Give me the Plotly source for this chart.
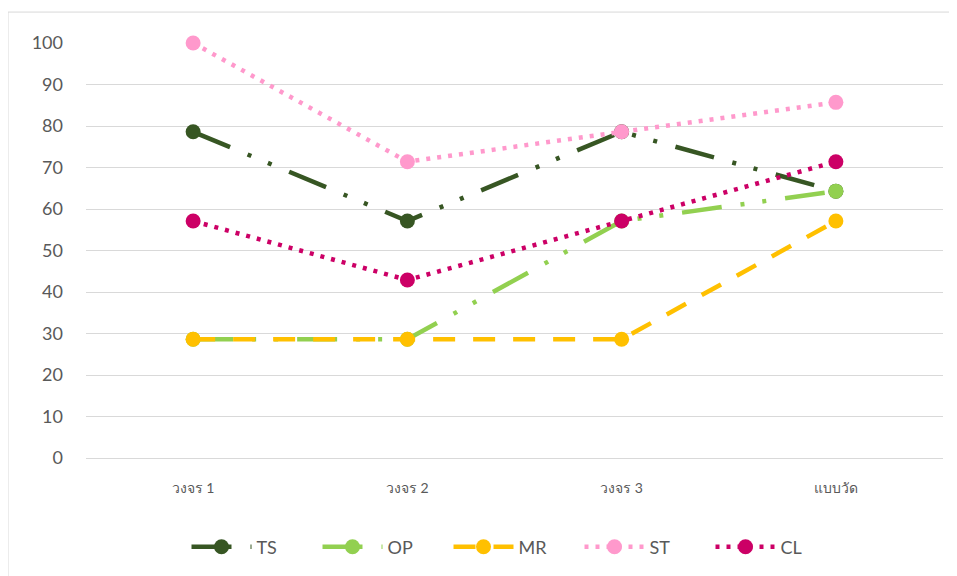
import plotly.graph_objects as go

categories = ["วงจร 1", "วงจร 2", "วงจร 3", "แบบวัด"]
ts = [78.6, 57.1, 78.6, 64.3]
op = [28.6, 28.6, 57.1, 64.3]
mr = [28.6, 28.6, 28.6, 57.1]
st = [100.0, 71.4, 78.6, 85.7]
cl = [57.1, 42.9, 57.1, 71.4]
y_ticks = [0, 10, 20, 30, 40, 50, 60, 70, 80, 90, 100]

LDDD = "40px,19px,4px,18px,4px,19px"
series = [
    ("TS", ts, "#375623", LDDD),
    ("OP", op, "#92D050", LDDD),
    ("MR", mr, "#FFC000", "22px,18px"),
    ("ST", st, "#FF99CC", "4px,7px"),
    ("CL", cl, "#CC0066", "4px,7px"),
]

fig = go.Figure()
for name, vals, color, dash in series:
    fig.add_trace(go.Scatter(
        x=list(range(len(categories))), y=vals, name=name, mode="lines+markers",
        line=dict(color=color, width=4.5, dash=dash),
        marker=dict(color=color, size=15, symbol="circle"),
        cliponaxis=False,
    ))

# page body has an 8px offset
W, H = 949, 568
L, R, T, B = 78, 14, 35, 117
pw, ph = W - L - R, H - T - B
fig.update_layout(
    width=W, height=H,
    margin=dict(l=L, r=R, t=T, b=B),
    paper_bgcolor="white", plot_bgcolor="white",
    font=dict(family="Lato, Open Sans, sans-serif", color="#595959"),
    xaxis=dict(
        range=[-0.5, 3.5], tickvals=list(range(len(categories))), ticktext=categories,
        showgrid=False, zeroline=False, showline=False, ticks="",
        tickfont=dict(size=14, color="#595959"), ticklabelstandoff=20,
    ),
    yaxis=dict(
        range=[0, 100], tickvals=y_ticks, showgrid=True, gridcolor="#D9D9D9", gridwidth=1,
        zeroline=True, zerolinecolor="#D9D9D9", zerolinewidth=1, showline=False, ticks="",
        tickfont=dict(size=18, color="#595959"), ticklabelstandoff=22,
    ),
    showlegend=True,
    legend=dict(
        orientation="h", x=(506 - L) / pw, xanchor="center", y=(H - B - 539) / ph, yanchor="middle",
        font=dict(size=18, color="#595959"), itemwidth=60, entrywidth=56, entrywidthmode="pixels",
        bgcolor="rgba(0,0,0,0)",
    ),
    shapes=[dict(
        type="rect", xref="paper", yref="paper",
        x0=(0 - L) / pw, x1=(942 - L) / pw, y0=(H - B - 575) / ph, y1=(H - B - 4) / ph,
        line=dict(color="#D9D9D9", width=1), fillcolor="rgba(0,0,0,0)", layer="below",
    )],
)

fig.write_html("out.html")
